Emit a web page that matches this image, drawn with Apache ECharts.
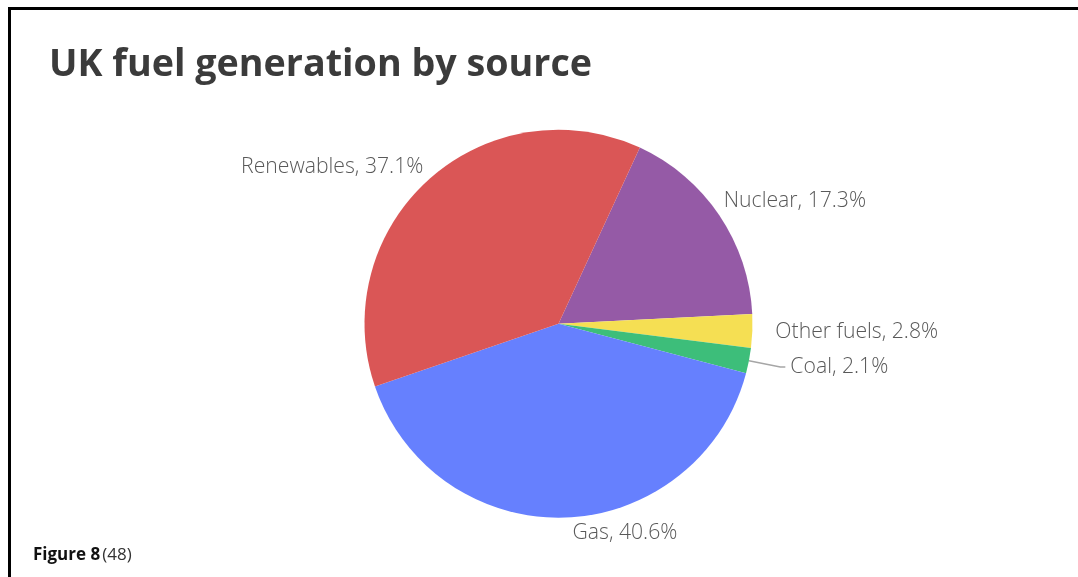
<!DOCTYPE html>
<html>
<head>
<meta charset="utf-8">
<script src="https://cdn.jsdelivr.net/npm/echarts@6/dist/echarts.min.js"></script>
<style>
html,body{margin:0;padding:0;background:#fff;}
#chart{width:1078px;height:577px;}
</style>
</head>
<body>
<div id="chart"></div>
<script>
// Data (clockwise order starting just right of the top)
const categories = ['Nuclear', 'Other fuels', 'Coal', 'Gas', 'Renewables'];
const shares = [17.3, 2.8, 2.1, 40.6, 37.1];
const colors = ['#955AA6', '#F5DF53', '#3DBE7A', '#6680FE', '#DA5656'];
// label placement styles per slice
const labelLineStyles = [
  {show: false, length: 26, length2: -22},
  {show: false, length: 10, length2: 8},
  {show: true, length: 32, length2: 5},
  {show: false, length: 15, length2: 1.5},
  {show: false, length: 17.5, length2: -11.5}
];

const chart = echarts.init(document.getElementById('chart'), null, {renderer: 'canvas'});

const data = categories.map((c, i) => ({
  name: c,
  value: shares[i],
  itemStyle: {color: colors[i]},
  labelLine: labelLineStyles[i]
}));

chart.setOption({
  backgroundColor: '#ffffff',
  animation: false,
  graphic: [
    {type: 'rect', shape: {x: 9.5, y: 8.5, width: 1200, height: 700},
     style: {fill: 'none', stroke: '#000', lineWidth: 3}, silent: true},
    {type: 'text', left: 49, top: 46,
     style: {text: 'UK fuel generation by source', fill: '#3b3b3b',
       font: 'bold 37.7px "Open Sans", sans-serif'}},
    {type: 'text', left: 33, top: 547,
     style: {text: '{b|Figure 8}{r|(48)}',
       rich: {
         b: {fontFamily: '"Open Sans", sans-serif', fontWeight: 'bold', fontSize: 17, fill: '#111'},
         r: {fontFamily: '"Open Sans", sans-serif', fontSize: 17, fill: '#333', padding: [0,0,0,2]}
       }}}
  ],
  series: [{
    type: 'pie',
    center: [558.5, 323.7],
    radius: 194,
    startAngle: 65.2,
    clockwise: true,
    avoidLabelOverlap: false,
    data: data,
    label: {
      show: true,
      position: 'outside',
      formatter: '{b}, {c}%',
      color: '#595959',
      fontFamily: '"Open Sans", sans-serif',
      fontWeight: 300,
      fontSize: 21.2,
      distanceToLabelLine: 5
    },
    labelLine: {
      lineStyle: {color: '#a6a6a6', width: 1.5},
      smooth: false
    },
    itemStyle: {borderWidth: 0},
    emphasis: {disabled: true}
  }]
});
</script>
</body>
</html>
